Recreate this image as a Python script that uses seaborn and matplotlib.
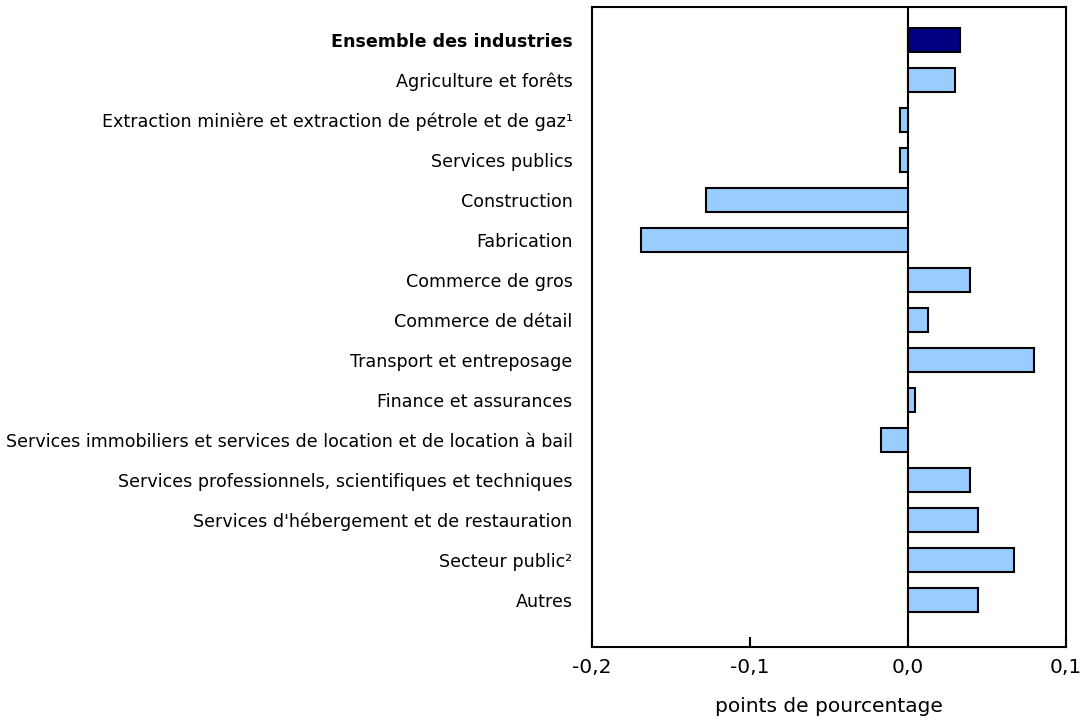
import matplotlib
matplotlib.use("Agg")
import matplotlib.pyplot as plt
import seaborn as sns
import pandas as pd
from matplotlib.ticker import FuncFormatter

categories = [
    "Ensemble des industries",
    "Agriculture et forêts",
    "Extraction minière et extraction de pétrole et de gaz¹",
    "Services publics",
    "Construction",
    "Fabrication",
    "Commerce de gros",
    "Commerce de détail",
    "Transport et entreposage",
    "Finance et assurances",
    "Services immobiliers et services de location et de location à bail",
    "Services professionnels, scientifiques et techniques",
    "Services d'hébergement et de restauration",
    "Secteur public²",
    "Autres",
]
values = [0.033, 0.030, -0.005, -0.005, -0.128, -0.169, 0.0395, 0.0127,
          0.0796, 0.0045, -0.017, 0.039, 0.0446, 0.0669, 0.044]
x_ticks = [-0.2, -0.1, 0.0, 0.1]

sns.set_style("white")
plt.rcParams["font.family"] = ["DejaVu Sans"]
plt.rcParams["text.color"] = "black"
plt.rcParams["axes.labelcolor"] = "black"
plt.rcParams["xtick.color"] = "black"
plt.rcParams["ytick.color"] = "black"

df = pd.DataFrame({"cat": categories, "val": values})
palette = ["#000080"] + ["#99CCFF"] * (len(categories) - 1)

fig = plt.figure(figsize=(10.83, 7.23), dpi=100)
ax = fig.add_axes([0.5466, 0.1051, 0.4377, 0.8852])
sns.barplot(data=df, y="cat", x="val", hue="cat", palette=palette, legend=False,
            orient="h", width=0.6, edgecolor="black", linewidth=1.5, ax=ax,
            saturation=1)
ax.axvline(0, color="black", lw=1.5, zorder=0.5)
ax.set_xlim(-0.2, 0.1)
ax.set_ylim(len(categories) - 1 + 1.175, -0.825)
ax.set_xticks(x_ticks)
ax.xaxis.set_major_formatter(FuncFormatter(lambda v, p: f"{v:.1f}".replace(".", ",").replace("-0,0", "0,0")))
ax.tick_params(axis="x", direction="in", length=7, width=1.5, labelsize=14.5, pad=8,
               bottom=True, colors="black")
ax.tick_params(axis="y", length=0, labelsize=12.6, pad=14, colors="black")
for s in ax.spines.values():
    s.set_color("black")
    s.set_linewidth(1.5)
ax.set_ylabel("")
ax.set_xlabel("points de pourcentage", fontsize=14.5, labelpad=14, color="black")
for lbl in ax.get_yticklabels():
    if lbl.get_text() == "Ensemble des industries":
        lbl.set_fontweight("bold")
fig.savefig("out.png", dpi=100)
